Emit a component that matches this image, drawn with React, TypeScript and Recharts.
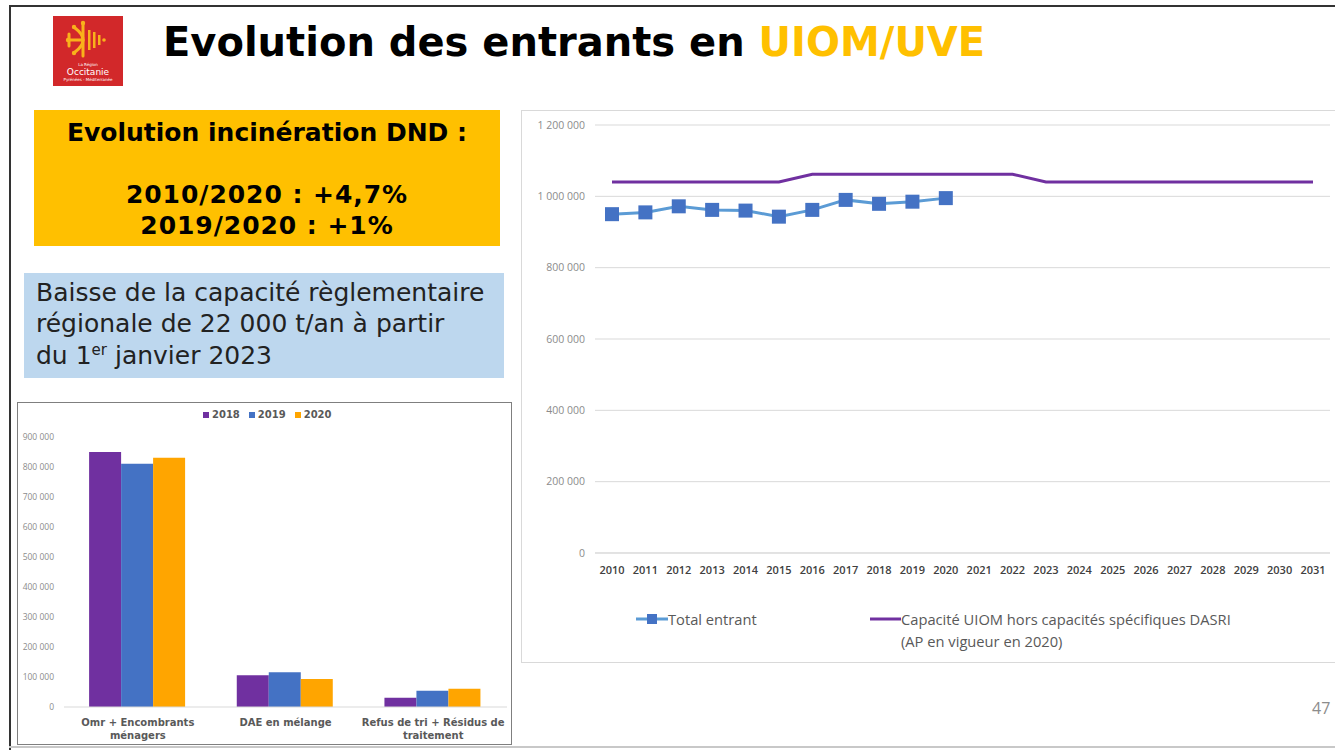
import React from 'react';
import {
  LineChart,
  Line,
  BarChart,
  Bar,
  XAxis,
  YAxis,
  CartesianGrid,
  Legend,
} from 'recharts';

// --- line chart: entrants vs capacité réglementaire
const years = [
  '2010', '2011', '2012', '2013', '2014', '2015', '2016', '2017', '2018', '2019', '2020',
  '2021', '2022', '2023', '2024', '2025', '2026', '2027', '2028', '2029', '2030', '2031',
];
const totalEntrant = [
  950000, 955000, 972000, 962000, 960000, 943000, 962000, 990000, 979000, 985000, 995000,
  null, null, null, null, null, null, null, null, null, null, null,
];
const capaciteUiom = [
  1040000, 1040000, 1040000, 1040000, 1040000, 1040000, 1062000, 1062000, 1062000, 1062000, 1062000,
  1062000, 1062000, 1040000, 1040000, 1040000, 1040000, 1040000, 1040000, 1040000, 1040000, 1040000,
];
const lineTicks = [0, 200000, 400000, 600000, 800000, 1000000, 1200000];

// --- bar chart: entrants par type de déchet (\n = line break of the axis label)
const barCategories = ['Omr + Encombrants\nménagers', 'DAE en mélange', 'Refus de tri + Résidus de\ntraitement'];
const bar2018 = [850000, 106000, 31000];
const bar2019 = [811000, 116000, 54000];
const bar2020 = [831000, 93000, 61000];
const barTicks = [0, 100000, 200000, 300000, 400000, 500000, 600000, 700000, 800000, 900000];

const lineData = years.map((year, i) => ({ year, total: totalEntrant[i], capacite: capaciteUiom[i] }));
const barData = barCategories.map((name, i) => ({ name, y2018: bar2018[i], y2019: bar2019[i], y2020: bar2020[i] }));

const PURPLE = '#7030A0';
const BLUE = '#4472C4';
const LIGHT_BLUE = '#5B9BD5';
const ORANGE = '#FFA500';
const GOLD = '#FFC000';

// thousands separated by a no-break space so tick labels never wrap
const fmt = (n: number) => String(n).replace(/\B(?=(\d{3})+(?!\d))/g, '\u00A0');

const SquareDot = (props: any) => {
  const { cx, cy, index } = props;
  if (cx == null || cy == null) return <g key={`d${index}`} />;
  return <rect key={`d${index}`} x={cx - 7} y={cy - 7} width={14} height={14} fill={BLUE} />;
};

const renderLineLegend = () => (
  <div style={{ display: 'flex', fontFamily: 'Open Sans', fontSize: 14.7, color: '#595959', lineHeight: '22px' }}>
    <div style={{ display: 'flex', width: 234 }}>
      <svg width={32} height={22}>
        <line x1={0} x2={32} y1={11} y2={11} stroke={LIGHT_BLUE} strokeWidth={3} />
        <rect x={11} y={6} width={10} height={10} fill={BLUE} />
      </svg>
      <span>Total entrant</span>
    </div>
    <div style={{ display: 'flex' }}>
      <svg width={31} height={22}>
        <line x1={0} x2={31} y1={11} y2={11} stroke={PURPLE} strokeWidth={3} />
      </svg>
      <span>
        Capacité UIOM hors capacités spécifiques DASRI
        <br />
        (AP en vigueur en 2020)
      </span>
    </div>
  </div>
);

const renderBarLegend = () => (
  <div style={{ display: 'flex', fontFamily: 'DejaVu Sans', fontWeight: 700, fontSize: 10, color: '#595959' }}>
    {[['2018', PURPLE], ['2019', BLUE], ['2020', ORANGE]].map(([label, color]) => (
      <div key={label} style={{ display: 'flex', alignItems: 'center', marginRight: 9 }}>
        <span style={{ width: 6, height: 6, background: color, marginRight: 3 }} />
        <span>{label}</span>
      </div>
    ))}
  </div>
);

const BarCategoryTick = ({ x, y, payload }: any) => (
  <text
    x={x}
    y={y + 11}
    textAnchor="middle"
    fontSize={10}
    fontWeight={700}
    fontFamily="DejaVu Sans"
    fill="#595959"
  >
    {String(payload.value).split('\n').map((line: string, i: number) => (
      <tspan key={i} x={x} dy={i === 0 ? 0 : 12.5}>
        {line}
      </tspan>
    ))}
  </text>
);

const Logo = () => (
  <div style={{ position: 'absolute', left: 53, top: 16, width: 70, height: 70, background: '#D2282A' }}>
    <svg width={70} height={48}>
      <g stroke="#F9B21B" strokeWidth={3} fill="none" strokeLinecap="round">
        <path d="M30 8 L30 40" />
        <path d="M16 24 L30 24" />
        <path d="M22 12 Q30 18 30 24 Q30 30 22 36" />
        <path d="M16 18 L16 30" />
      </g>
      <g fill="#F9B21B">
        <circle cx={30} cy={7} r={2.2} />
        <circle cx={15} cy={24} r={2.2} />
        <circle cx={21} cy={11} r={2.2} />
        <circle cx={21} cy={37} r={2.2} />
        <rect x={35} y={14} width={2.5} height={20} />
        <rect x={40} y={16} width={2.5} height={16} />
        <rect x={45} y={19} width={2.5} height={10} />
        <circle cx={51} cy={24} r={1.8} />
      </g>
    </svg>
    <div style={{ position: 'absolute', top: 46, width: 70, textAlign: 'center', color: '#fff', fontFamily: 'DejaVu Sans' }}>
      <div style={{ fontSize: 4, lineHeight: '5px' }}>La Région</div>
      <div style={{ fontSize: 9, lineHeight: '10px' }}>Occitanie</div>
      <div style={{ fontSize: 4, lineHeight: '5px' }}>Pyrénées - Méditerranée</div>
    </div>
  </div>
);

export default function App() {
  return (
    <div style={{ position: 'absolute', left: 0, top: 0, width: 1335, height: 750, overflow: 'hidden', background: '#fff' }}>
      {/* slide frame */}
      <div style={{ position: 'absolute', left: 9, top: 5, width: 1340, height: 760, borderLeft: '2px solid #333', borderTop: '2px solid #333' }} />
      <div style={{ position: 'absolute', left: 9, top: 746, width: 1330, height: 2, background: '#c8c8c8' }} />

      <Logo />

      <div
        style={{
          position: 'absolute', left: 163, top: 22, fontFamily: 'DejaVu Sans', fontWeight: 700,
          fontSize: 40, lineHeight: '40px', color: '#000', whiteSpace: 'nowrap',
        }}
      >
        Evolution des entrants en <span style={{ color: GOLD }}>UIOM/UVE</span>
      </div>

      {/* key figures */}
      <div
        style={{
          position: 'absolute', left: 34, top: 110, width: 466, height: 136, background: GOLD,
          boxSizing: 'border-box', paddingTop: 6.5, textAlign: 'center', fontFamily: 'DejaVu Sans',
          fontWeight: 700, fontSize: 25, lineHeight: '31px', color: '#000',
        }}
      >
        Evolution incinération DND :
        <br />
        <br />
        <span style={{ letterSpacing: 0.95 }}>2010/2020 : +4,7%</span>
        <br />
        <span style={{ letterSpacing: 0.95 }}>2019/2020 : +1%</span>
      </div>

      <div
        style={{
          position: 'absolute', left: 24, top: 273, width: 480, height: 105, background: '#BDD7EE',
          boxSizing: 'border-box', paddingTop: 3.8, paddingLeft: 12, fontFamily: 'DejaVu Sans',
          fontSize: 25, lineHeight: '31.6px', color: '#222', whiteSpace: 'nowrap',
        }}
      >
        Baisse de la capacité règlementaire
        <br />
        régionale de 22 000 t/an à partir
        <br />
        du 1<sup style={{ fontSize: 15, lineHeight: 0 }}>er</sup> janvier 2023
      </div>

      {/* bar chart */}
      <div style={{ position: 'absolute', left: 17, top: 402, width: 495, height: 343, background: '#fff' }}>
        <BarChart
          width={495}
          height={343}
          data={barData}
          margin={{ top: 35, right: 5, left: 0, bottom: 0 }}
          barCategoryGap="17%"
          barGap={0}
        >
          <XAxis
            dataKey="name"
            interval={0}
            height={38}
            tickLine={false}
            axisLine={{ stroke: '#d9d9d9' }}
            tick={<BarCategoryTick />}
          />
          <YAxis
            width={47}
            domain={[0, 900000]}
            ticks={barTicks}
            tickFormatter={fmt}
            axisLine={false}
            tickLine={false}
            tickMargin={4}
            tick={{ fill: '#8c8c8c', fontSize: 8.5, fontFamily: 'Open Sans' }}
          />
          <Legend
            layout="horizontal"
            verticalAlign="middle"
            align="center"
            wrapperStyle={{ left: 186, top: 7, width: 150 }}
            content={renderBarLegend}
          />
          <Bar dataKey="y2018" fill={PURPLE} isAnimationActive={false} />
          <Bar dataKey="y2019" fill={BLUE} isAnimationActive={false} />
          <Bar dataKey="y2020" fill={ORANGE} isAnimationActive={false} />
        </BarChart>
        <div style={{ position: 'absolute', inset: 0, border: '1.5px solid #7f7f7f', pointerEvents: 'none' }} />
      </div>

      {/* line chart */}
      <div style={{ position: 'absolute', left: 521, top: 110, width: 830, height: 553, border: '1px solid #d9d9d9', boxSizing: 'border-box' }} />
      <div style={{ position: 'absolute', left: 521, top: 110 }}>
        <LineChart width={814} height={553} data={lineData} margin={{ top: 15, right: 5, left: 0, bottom: 80 }}>
          <CartesianGrid vertical={false} stroke="#d9d9d9" />
          <XAxis
            dataKey="year"
            interval={0}
            height={30}
            padding={{ left: 17, right: 17 }}
            tickLine={false}
            axisLine={{ stroke: '#d9d9d9' }}
            tickMargin={7}
            tick={{ fill: '#404040', fontSize: 11, fontWeight: 600, fontFamily: 'Open Sans' }}
          />
          <YAxis
            width={74}
            domain={[0, 1200000]}
            ticks={lineTicks}
            tickFormatter={fmt}
            axisLine={false}
            tickLine={false}
            tickMargin={4}
            tick={{ fill: '#8c8c8c', fontSize: 10.5, fontFamily: 'Open Sans' }}
          />
          <Legend
            layout="horizontal"
            verticalAlign="middle"
            align="center"
            wrapperStyle={{ left: 115, top: 498, width: 640 }}
            content={renderLineLegend}
          />
          <Line
            dataKey="capacite"
            stroke={PURPLE}
            strokeWidth={3}
            dot={false}
            activeDot={false}
            isAnimationActive={false}
          />
          <Line
            dataKey="total"
            stroke={LIGHT_BLUE}
            strokeWidth={3}
            dot={SquareDot}
            activeDot={false}
            isAnimationActive={false}
          />
        </LineChart>
      </div>

      <div style={{ position: 'absolute', left: 1312, top: 697, fontFamily: 'Open Sans', fontSize: 16, color: '#8c8c8c' }}>47</div>
    </div>
  );
}
